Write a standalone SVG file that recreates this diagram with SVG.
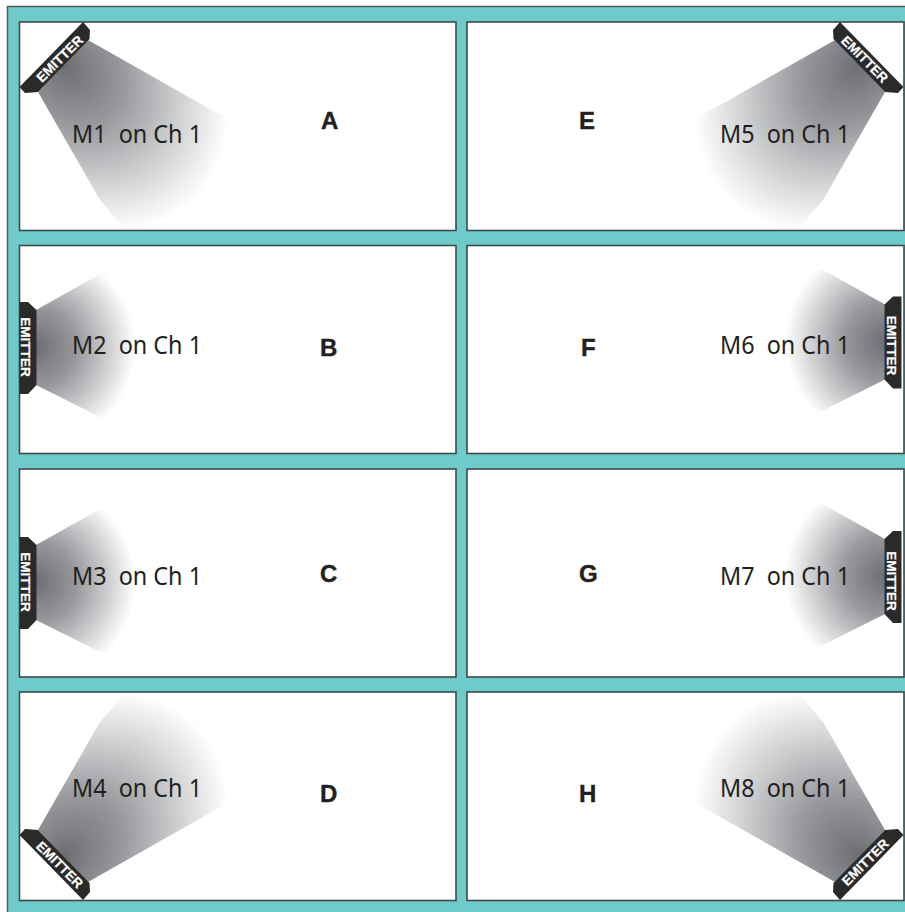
<svg xmlns="http://www.w3.org/2000/svg" width="905" height="912" viewBox="0 0 905 912">
<style>
.panel{fill:#fff;stroke:#3c4a4c;stroke-width:1.6}
.housing{fill:#2b2a2b}
.em{font-family:"Liberation Sans",Arial,sans-serif;font-weight:700;font-size:13.6px;fill:#fff;text-anchor:middle;stroke:#fff;stroke-width:.2}
.lbl{font-family:"Noto Sans","Open Sans",sans-serif;font-size:25px;fill:#231f20}
.let{font-family:"Liberation Sans",Arial,sans-serif;font-weight:700;font-size:24px;fill:#231f20;stroke:#231f20;stroke-width:.4}
</style>
<defs>
<radialGradient id="gDiag" gradientUnits="userSpaceOnUse" cx="0" cy="0" r="1" gradientTransform="translate(64 66) rotate(45) scale(187 138)">
<stop offset="0" stop-color="#6d6e71"/><stop offset=".35" stop-color="#96979a"/><stop offset=".7" stop-color="#cfd0d2"/><stop offset="1" stop-color="#fff"/>
</radialGradient>
<radialGradient id="gSide" gradientUnits="userSpaceOnUse" cx="36" cy="347" r="100">
<stop offset="0" stop-color="#6d6e71"/><stop offset=".4" stop-color="#97989b"/><stop offset=".75" stop-color="#d2d3d5"/><stop offset="1" stop-color="#fff"/>
</radialGradient>
<g id="diag">
<path fill="url(#gDiag)" d="M88 40L210 109L240 125L240 229L125 229L100 200L38 92Z"/>
<path class="housing" d="M83 22L90 30L89.500 39L38 92L25 93L19.500 87Z"/>
</g>
<g id="side">
<path fill="url(#gSide)" d="M36 310L110 268.500L150 300L150 390L110 422L36 385Z"/>
<path class="housing" d="M19.500 302L28 302L36.500 310L36.500 385L28 394L19.500 394Z"/>
</g>
</defs>
<rect id="frame" x="7.500" y="6.500" width="905" height="915" fill="#6ecbca" stroke="#58595b" stroke-width="1.500"/>
<g id="panels">
<rect class="panel" x="19.500" y="22" width="436.500" height="208.500"/>
<rect class="panel" x="19.500" y="245.500" width="436.500" height="208"/>
<rect class="panel" x="19.500" y="469" width="436.500" height="208"/>
<rect class="panel" x="19.500" y="692" width="436.500" height="208.500"/>
<rect class="panel" x="467" y="22" width="437" height="208.500"/>
<rect class="panel" x="467" y="245.500" width="437" height="208"/>
<rect class="panel" x="467" y="469" width="437" height="208"/>
<rect class="panel" x="467" y="692" width="437" height="208.500"/>
</g>
<g id="connectors"/>
<g id="node-a">
<use href="#diag"/>
<text class="em" transform="translate(59.500 58.500) rotate(-45)" y="5">EMITTER</text>
<text class="lbl" x="72" y="143" xml:space="preserve" textLength="130" lengthAdjust="spacingAndGlyphs">M1  on Ch 1</text>
<text class="let" x="321" y="129">A</text>
</g>
<g id="node-b">
<use href="#side"/>
<text class="em" transform="translate(25.700 347) rotate(90)" y="5">EMITTER</text>
<text class="lbl" x="72" y="354" xml:space="preserve" textLength="130" lengthAdjust="spacingAndGlyphs">M2  on Ch 1</text>
<text class="let" x="320" y="356">B</text>
</g>
<g id="node-c">
<use href="#side" transform="translate(0 235)"/>
<text class="em" transform="translate(25.700 582) rotate(90)" y="5">EMITTER</text>
<text class="lbl" x="72" y="585" xml:space="preserve" textLength="130" lengthAdjust="spacingAndGlyphs">M3  on Ch 1</text>
<text class="let" x="320" y="582">C</text>
</g>
<g id="node-d">
<use href="#diag" transform="matrix(1 0 0 -1 0 922)"/>
<text class="em" transform="translate(60 864.500) rotate(45)" y="5">EMITTER</text>
<text class="lbl" x="72" y="797" xml:space="preserve" textLength="130" lengthAdjust="spacingAndGlyphs">M4  on Ch 1</text>
<text class="let" x="320" y="802">D</text>
</g>
<g id="node-e">
<use href="#diag" transform="matrix(-1 0 0 1 923 0)"/>
<text class="em" transform="translate(865 59) rotate(45)" y="5">EMITTER</text>
<text class="lbl" x="720" y="143" xml:space="preserve" textLength="130" lengthAdjust="spacingAndGlyphs">M5  on Ch 1</text>
<text class="let" x="579" y="129">E</text>
</g>
<g id="node-f">
<use href="#side" transform="matrix(-1 0 0 1 921 -5.500)"/>
<text class="em" transform="translate(892.300 345.500) rotate(90)" y="5">EMITTER</text>
<text class="lbl" x="720" y="354" xml:space="preserve" textLength="130" lengthAdjust="spacingAndGlyphs">M6  on Ch 1</text>
<text class="let" x="581" y="356">F</text>
</g>
<g id="node-g">
<use href="#side" transform="matrix(-1 0 0 1 921 229)"/>
<text class="em" transform="translate(892 581) rotate(90)" y="5">EMITTER</text>
<text class="lbl" x="720" y="585" xml:space="preserve" textLength="130" lengthAdjust="spacingAndGlyphs">M7  on Ch 1</text>
<text class="let" x="579" y="582">G</text>
</g>
<g id="node-h">
<use href="#diag" transform="matrix(-1 0 0 -1 923 922)"/>
<text class="em" transform="translate(865 862) rotate(-45)" y="5">EMITTER</text>
<text class="lbl" x="720" y="797" xml:space="preserve" textLength="130" lengthAdjust="spacingAndGlyphs">M8  on Ch 1</text>
<text class="let" x="579" y="802">H</text>
</g>
</svg>
